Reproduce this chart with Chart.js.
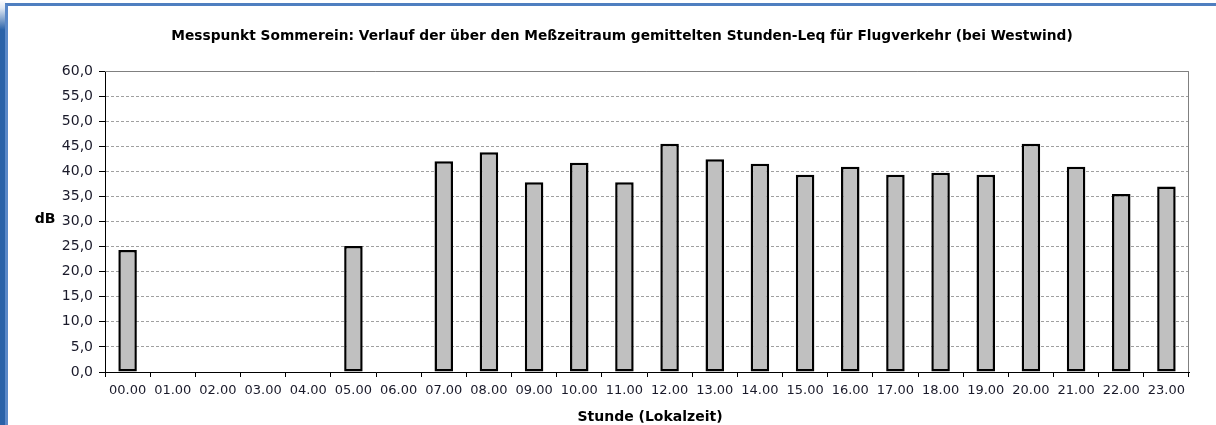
<!DOCTYPE html>
<html>
<head>
<meta charset="utf-8">
<script src="https://cdn.jsdelivr.net/npm/chart.js@4"></script>
<style>
  html, body { margin: 0; padding: 0; background: #fff; }
  #wrap { position: relative; width: 1216px; height: 425px; overflow: hidden; }
  .band { position: absolute; left: 0; top: 0; width: 6px; height: 425px;
          background: linear-gradient(to bottom, #ffffff 0px, #dfe8f4 8px, #2a62a8 30px, #2a62a8 100%); }
  .frame { position: absolute; left: 5px; top: 3px; width: 1220px; height: 430px;
           border-left: 3px solid #5a88c8; border-top: 3px solid #4f7fc0; }
  canvas { position: absolute; left: 0; top: 0; }
</style>
</head>
<body>
<div id="wrap">
  <div class="band"></div>
  <div class="frame"></div>
  <canvas id="chart" width="1216" height="425"></canvas>
</div>
<script>
// Stunden 00.00 - 23.00
const hours = ['00.00','01.00','02.00','03.00','04.00','05.00','06.00','07.00','08.00','09.00','10.00','11.00',
               '12.00','13.00','14.00','15.00','16.00','17.00','18.00','19.00','20.00','21.00','22.00','23.00'];
// Stunden-Leq in dB (leer = kein Wert)
const leq = [24.3, null, null, null, null, 25.1, null, 42.0, 43.8, 37.8, 41.7, 37.8,
             45.5, 42.4, 41.5, 39.3, 40.9, 39.3, 39.7, 39.3, 45.5, 40.9, 35.5, 37.0];
const yTicks = ['0,0','5,0','10,0','15,0','20,0','25,0','30,0','35,0','40,0','45,0','50,0','55,0','60,0'];

const titleText = 'Messpunkt Sommerein: Verlauf der über den Meßzeitraum gemittelten Stunden-Leq für Flugverkehr (bei Westwind)';
const xTitle = 'Stunde (Lokalzeit)';
const yTitle = 'dB';
const FONT = '"DejaVu Sans", sans-serif';

const excelLook = {
  id: 'excelLook',
  afterDraw(chart) {
    const { ctx, chartArea: a } = chart;
    ctx.save();
    // Rahmen oben/rechts grau
    ctx.strokeStyle = '#808080';
    ctx.lineWidth = 1;
    ctx.beginPath();
    ctx.moveTo(a.left, a.top + 0.5);
    ctx.lineTo(a.right - 0.5, a.top + 0.5);
    ctx.lineTo(a.right - 0.5, a.bottom);
    ctx.stroke();

    ctx.fillStyle = '#000';
    ctx.textAlign = 'center';
    ctx.textBaseline = 'middle';
    ctx.font = 'bold 13.75px ' + FONT;
    ctx.fillText(titleText, 622, 36);
    ctx.font = 'bold 14px ' + FONT;
    ctx.fillText(xTitle, 650, 417);
    ctx.fillText(yTitle, 45, 219);
    ctx.restore();
  }
};

new Chart(document.getElementById('chart'), {
  type: 'bar',
  data: {
    labels: hours,
    datasets: [{
      data: leq,
      backgroundColor: '#c0c0c0',
      borderColor: '#000',
      borderWidth: 2.5,
      borderSkipped: false,
      barPercentage: 0.41,
      categoryPercentage: 1.0
    }]
  },
  options: {
    responsive: false,
    animation: false,
    layout: { padding: { top: 71, right: 27, bottom: 0, left: 0 } },
    plugins: {
      legend: { display: false },
      tooltip: { enabled: false },
      title: { display: false }
    },
    scales: {
      x: {
        grid: { drawOnChartArea: false, drawTicks: true, tickLength: 5, tickColor: '#000', offset: true },
        border: { display: true, color: '#000', width: 1 },
        ticks: { color: '#1a1a2a', font: { family: FONT, size: 13 }, padding: 6, maxRotation: 0, autoSkip: false },
        afterFit(scale) { scale.height = 53; }
      },
      y: {
        min: 0,
        max: 60,
        grid: { color: '#a0a0a0', lineWidth: 1, tickLength: 6, tickColor: '#000', tickBorderDash: [] },
        border: { display: true, color: '#000', width: 1, dash: [3, 2] },
        ticks: {
          stepSize: 5,
          color: '#1a1a2a',
          font: { family: FONT, size: 14 },
          padding: 6,
          callback: (v, i) => yTicks[i]
        },
        afterFit(scale) { scale.width = 105; }
      }
    }
  },
  plugins: [excelLook]
});
</script>
</body>
</html>
